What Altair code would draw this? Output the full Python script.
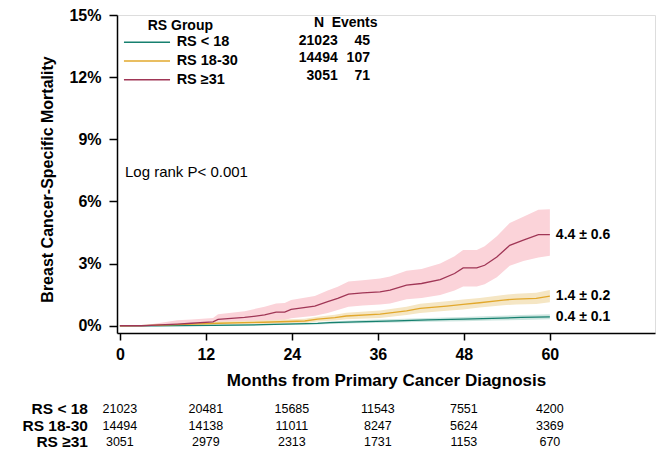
import altair as alt
import pandas as pd

groups = ["RS < 18", "RS 18-30", "RS ≥31"]
line_colors = ["#16806f", "#e2a82c", "#a03656"]
band_colors = ["#cce5df", "#f5e6c4", "#fbd3d9"]

# RS < 18
m_a = [0, 5, 13, 20, 27.6, 29.3, 33, 38.6, 43, 47.9, 52, 56, 60]
v_a = [0, 0, 0.02, 0.05, 0.11, 0.15, 0.19, 0.24, 0.28, 0.32, 0.36, 0.40, 0.43]
lo_a = [0, 0, 0, 0.02, 0.06, 0.09, 0.12, 0.16, 0.19, 0.22, 0.25, 0.28, 0.31]
hi_a = [0, 0.01, 0.05, 0.09, 0.16, 0.21, 0.26, 0.32, 0.37, 0.42, 0.47, 0.52, 0.55]

# RS 18-30
m_b = [0, 3, 8, 13.7, 20, 25.8, 27.6, 30, 31.6, 36.3, 40, 41.9, 45.6, 47.9, 50.2, 53.5, 55.3, 58.1, 60]
v_b = [0, 0.01, 0.05, 0.12, 0.17, 0.23, 0.32, 0.39, 0.47, 0.56, 0.72, 0.84, 0.95, 1.03, 1.11, 1.24, 1.29, 1.32, 1.43]
lo_b = [0, 0, 0.01, 0.05, 0.08, 0.12, 0.20, 0.25, 0.31, 0.38, 0.52, 0.62, 0.72, 0.79, 0.88, 0.99, 1.03, 1.05, 1.13]
hi_b = [0, 0.03, 0.10, 0.20, 0.26, 0.34, 0.44, 0.53, 0.63, 0.74, 0.92, 1.06, 1.18, 1.27, 1.34, 1.49, 1.55, 1.59, 1.73]

# RS >= 31
m_c = [0, 3, 8, 10, 13, 13.7, 17.4, 20.2, 21.8, 23, 23.9, 27.2, 29, 30.4, 31.9, 33.9, 36.3, 37.7,
       40, 42.1, 44.7, 46.7, 47.9, 49.8, 50.9, 52.6, 54.4, 56.3, 58.4, 60]
v_c = [0, 0, 0.08, 0.12, 0.19, 0.31, 0.40, 0.52, 0.66, 0.66, 0.79, 0.95, 1.16, 1.32, 1.53, 1.59, 1.64, 1.72,
       1.96, 2.04, 2.23, 2.52, 2.79, 2.79, 2.92, 3.32, 3.88, 4.13, 4.40, 4.40]
lo_c = [0, 0, 0, 0, 0.02, 0.06, 0.10, 0.18, 0.28, 0.28, 0.36, 0.48, 0.62, 0.76, 0.92, 0.98, 1.02, 1.08,
        1.28, 1.34, 1.48, 1.70, 1.90, 1.90, 2.00, 2.34, 2.90, 3.12, 3.30, 3.38]
hi_c = [0, 0, 0.26, 0.30, 0.38, 0.56, 0.70, 0.92, 1.08, 1.10, 1.24, 1.44, 1.70, 1.88, 2.14, 2.20, 2.28, 2.38,
        2.66, 2.74, 3.00, 3.36, 3.66, 3.66, 3.84, 4.32, 4.96, 5.26, 5.60, 5.62]

n_patients = [21023, 14494, 3051]
n_events = [45, 107, 71]
end_labels = ["0.4 ± 0.1", "1.4 ± 0.2", "4.4 ± 0.6"]

risk_months = [0, 12, 24, 36, 48, 60]
risk_a = [21023, 20481, 15685, 11543, 7551, 4200]
risk_b = [14494, 14138, 11011, 8247, 5624, 3369]
risk_c = [3051, 2979, 2313, 1731, 1153, 670]

x_ticks = [0, 12, 24, 36, 48, 60]
y_ticks = [0, 3, 6, 9, 12, 15]

FONT = "Liberation Sans"

series = [(m_a, v_a, lo_a, hi_a), (m_b, v_b, lo_b, hi_b), (m_c, v_c, lo_c, hi_c)]
frames = []
for g, (m, v, lo, hi) in zip(groups, series):
    frames.append(pd.DataFrame({"group": g, "month": m, "value": v, "lo": lo, "hi": hi}))
curves = pd.concat(frames, ignore_index=True)

xs = alt.Scale(domain=[-0.4, 74.67], nice=False, zero=False)
ys = alt.Scale(domain=[-0.35, 15], nice=False, zero=False)
fill_scale = alt.Scale(domain=groups, range=band_colors)
stroke_scale = alt.Scale(domain=groups, range=line_colors)

X_TITLE = "Months from Primary Cancer Diagnosis"
Y_TITLE = "Breast Cancer-Specific Mortality"
x_axis = alt.Axis(values=x_ticks, grid=False, domainColor="black", domainWidth=1.5,
                  tickColor="black", tickWidth=1.5, tickSize=7,
                  labelFont=FONT, labelFontSize=16, labelFontWeight="bold",
                  labelColor="black", labelBaseline="alphabetic", labelPadding=19,
                  titleFont=FONT, titleFontSize=17, titleFontWeight="bold",
                  titleColor="black", titleBaseline="alphabetic", titleY=52)
y_axis = alt.Axis(values=y_ticks, grid=False, domainColor="black", domainWidth=1.5,
                  tickColor="black", tickWidth=1.5, tickSize=8,
                  labelExpr="datum.value + '%'",
                  labelFont=FONT, labelFontSize=16, labelFontWeight="bold",
                  labelColor="black", labelPadding=8,
                  titleFont=FONT, titleFontSize=16, titleFontWeight="bold",
                  titleColor="black", titleAngle=-90, titleX=-70, titleY=164,
                  titleAlign="center", titleBaseline="middle")


def X(f="month"):
    return alt.X(f"{f}:Q", scale=xs, axis=x_axis, title=X_TITLE)


def Y(f):
    return alt.Y(f"{f}:Q", scale=ys, axis=y_axis, title=Y_TITLE)


layers = []
# bands (red first so it sits at the bottom)
for g in reversed(groups):
    d = curves[curves.group == g]
    layers.append(alt.Chart(d).mark_area(opacity=1, interpolate="linear").encode(
        x=X(), y=Y("lo"), y2="hi:Q",
        fill=alt.Fill("group:N", scale=fill_scale, legend=None)))

lines = alt.Chart(curves).mark_line(strokeWidth=1.3, interpolate="linear").encode(
    x=X(), y=Y("value"),
    stroke=alt.Stroke("group:N", scale=stroke_scale, legend=None),
    order="month:Q")
layers.append(lines)

# legend
leg = pd.DataFrame({"group": groups, "i": list(range(3))})
leg["y"] = 13.68 - 0.9 * leg["i"]
leg["x1"] = 0.57
leg["x2"] = 7.0
leg["xt"] = 7.92
layers.append(alt.Chart(leg).mark_rule(strokeWidth=1.5).encode(
    x=X("x1"), x2="x2:Q", y=Y("y"),
    stroke=alt.Stroke("group:N", scale=stroke_scale, legend=None)))
layers.append(alt.Chart(leg).mark_text(align="left", baseline="middle", font=FONT, fontSize=14.5,
                                       fontWeight="bold", color="black").encode(
    x=X("xt"), y=Y("y"), text="group:N"))
title_df = pd.DataFrame({"t": ["RS Group"], "x": [3.88], "y": [14.48]})
layers.append(alt.Chart(title_df).mark_text(align="left", baseline="middle", font=FONT, fontSize=14,
                                            fontWeight="bold", color="black").encode(
    x=X("x"), y=Y("y"), text="t:N"))

# N / Events table
hdr = pd.DataFrame({"t": ["N", "Events"], "x": [27.81, 29.55], "y": [14.61, 14.61],
                    "a": ["center", "left"]})
for _, r in hdr.iterrows():
    layers.append(alt.Chart(pd.DataFrame([r])).mark_text(align=r["a"], baseline="middle", font=FONT,
                                                         fontSize=14, fontWeight="bold", color="black").encode(
        x=X("x"), y=Y("y"), text="t:N"))
nt = pd.DataFrame({"n": [str(v) for v in n_patients], "e": [str(v) for v in n_events], "i": range(3)})
nt["y"] = 13.76 - 0.845 * nt["i"]
nt["xn"] = 30.4
nt["xe"] = 34.9
layers.append(alt.Chart(nt).mark_text(align="right", baseline="middle", font=FONT, fontSize=14,
                                      fontWeight="bold", color="black").encode(
    x=X("xn"), y=Y("y"), text="n:N"))
layers.append(alt.Chart(nt).mark_text(align="right", baseline="middle", font=FONT, fontSize=14,
                                      fontWeight="bold", color="black").encode(
    x=X("xe"), y=Y("y"), text="e:N"))

# log rank
lr = pd.DataFrame({"t": ["Log rank P< 0.001"], "x": [0.71], "y": [7.44]})
layers.append(alt.Chart(lr).mark_text(align="left", baseline="middle", font=FONT, fontSize=15,
                                      color="black").encode(x=X("x"), y=Y("y"), text="t:N"))

# end labels
ends = pd.DataFrame({"t": end_labels, "x": [s[0][-1] for s in series], "y": [s[1][-1] for s in series]})
layers.append(alt.Chart(ends).mark_text(align="left", baseline="middle", dx=6, font=FONT, fontSize=14,
                                        fontWeight="bold", color="black").encode(
    x=X("x"), y=Y("y"), text="t:N"))

# risk table
rows = []
for i, (g, vals) in enumerate(zip(groups, [risk_a, risk_b, risk_c])):
    for m, v in zip(risk_months, vals):
        rows.append({"group": g, "i": i, "month": m, "n": str(v)})
risk = pd.DataFrame(rows)
risk["y"] = -4.02 - 0.8 * risk["i"]
layers.append(alt.Chart(risk).mark_text(align="center", baseline="middle", font=FONT, fontSize=12.5,
                                        color="black").encode(x=X("month"), y=Y("y"), text="n:N"))
rl = pd.DataFrame({"group": groups, "i": range(3)})
rl["y"] = -4.02 - 0.8 * rl["i"]
rl["x"] = -4.45
layers.append(alt.Chart(rl).mark_text(align="right", baseline="middle", font=FONT, fontSize=15.5,
                                      fontWeight="bold", color="black").encode(
    x=X("x"), y=Y("y"), text="group:N"))

chart = alt.layer(*layers).properties(
    width=538, height=318,
    autosize=alt.AutoSizeParams(type="none"),
    padding={"left": 109, "top": 7, "right": 7, "bottom": 117},
).configure_view(stroke=None).configure(font=FONT, background="white")

chart.save("out.html", embed_options={"renderer": "svg", "actions": False})
